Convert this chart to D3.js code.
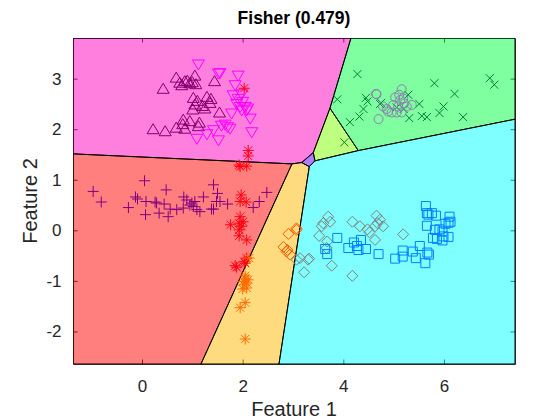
<!DOCTYPE html>
<html>
<head>
<meta charset="utf-8">
<script src="https://cdn.jsdelivr.net/npm/d3@7"></script>
<style>
  body { margin: 0; background: #fff; }
  text { font-family: "Liberation Sans", Arial, sans-serif; fill: #262626; }
</style>
</head>
<body>
<div class="canvas"></div>
<script>
// axis limits and ticks
const xLim = [-1.371, 7.411];
const yLim = [-2.644, 3.804];
const xTicks = [0, 2, 4, 6];
const yTicks = [-2, -1, 0, 1, 2, 3];

// classifier regions (vertices in feature space)
const regMagenta = [[-1.371, 3.804], [4.153, 3.804], [3.735, 2.415], [3.404, 1.538], [3.173, 1.340], [2.980, 1.314], [-1.371, 1.512]];
const regRed = [[-1.371, 1.512], [2.980, 1.314], [1.172, -2.644], [-1.371, -2.644]];
const regOrange = [[2.980, 1.314], [3.173, 1.340], [3.324, 1.261], [2.722, -2.644], [1.172, -2.644]];
const regPurple = [[3.173, 1.340], [3.404, 1.538], [3.437, 1.374], [3.324, 1.261]];
const regLime = [[3.735, 2.415], [4.298, 1.577], [3.437, 1.374], [3.404, 1.538]];
const regGreen = [[4.153, 3.804], [7.411, 3.804], [7.411, 2.198], [4.298, 1.577], [3.735, 2.415]];
const regCyan = [[3.324, 1.261], [3.437, 1.374], [4.298, 1.577], [7.411, 2.198], [7.411, -2.644], [2.722, -2.644]];

// classes
const triUp = [[0.42,2.79],[0.68,3.01],[0.75,2.91],[0.85,2.94],[0.95,2.90],[1.05,3.05],[1.07,2.88],[0.79,2.86],[1.44,2.94],
  [1.02,2.61],[1.10,2.55],[1.29,2.63],[1.37,2.59],[1.01,2.38],[1.25,2.40],[1.54,2.32],[0.82,2.18],[0.81,2.09],[1.14,2.12],
  [0.22,1.99],[0.46,1.95],[0.68,2.02],[0.85,2.00],[1.12,2.05],[1.05,2.48],[1.35,2.51],[0.90,2.95],[1.00,2.92],[1.20,2.45],[0.95,2.15]];
const triDown = [[1.12,3.29],[1.52,3.11],[1.91,3.07],[1.85,2.88],[1.81,2.68],[1.91,2.61],[1.88,2.51],[1.98,2.38],[2.08,2.38],
  [2.15,2.22],[1.78,2.32],[2.18,1.95],[1.58,2.08],[1.75,2.02],[1.42,1.99],[1.29,1.91],[1.09,1.82],[1.52,1.79],[2.05,2.45],
  [1.55,3.12],[1.98,2.70],[2.00,2.55],[1.95,2.45],[2.10,2.42],[1.70,2.05],[1.65,2.10]];
const starRed = [[2.03,2.81],[2.11,1.58],[2.11,1.47],[1.93,1.29],[2.08,1.27],[1.95,1.26],[1.97,0.70],[1.95,0.57],[2.07,0.56],
  [1.95,0.27],[1.76,0.11],[1.93,0.14],[2.01,0.17],[1.93,0.01],[1.98,0.08],[1.93,-0.11],[2.08,-0.19],[2.08,-0.55],[1.85,-0.70],
  [1.88,-0.73],[2.03,-0.62],[2.05,-0.65]];
const starOrange = [[2.13,-0.55],[2.05,-0.90],[2.11,-0.98],[2.01,-1.01],[2.08,-1.04],[2.00,-1.16],[2.08,-1.14],[2.05,-1.43],
  [1.95,-1.53],[2.05,-2.15],[2.05,-0.95],[2.03,-1.08]];
const plusPurple = [[-0.97,0.77],[-0.81,0.56],[-0.27,0.45],[-0.13,0.66],[-0.09,0.62],[0.05,0.98],[0.08,0.57],[0.07,0.31],
  [0.26,0.56],[0.29,0.54],[0.34,0.34],[0.48,0.80],[0.44,0.52],[0.52,0.27],[0.56,0.42],[0.69,0.41],[0.83,0.66],[0.82,0.44],
  [0.89,0.60],[0.99,0.54],[1.02,0.47],[1.09,0.41],[1.15,0.37],[1.05,0.57],[1.22,0.66],[1.38,0.42],[1.42,0.90],[1.50,0.73],
  [1.48,0.57],[1.55,0.57],[1.70,0.52],[2.21,0.45],[2.33,0.57],[2.48,0.75],[0.95,0.50],[1.42,0.42]];
const diamOrange = [[2.91,-0.07],[3.07,0.01],[2.81,-0.33],[2.89,-0.39],[2.94,-0.48],[2.87,-0.42],[3.07,0.04]];
const diamGray = [[3.70,0.27],[3.74,0.17],[3.60,0.14],[3.57,0.08],[3.52,-0.11],[3.68,-0.22],[3.67,-0.35],[3.14,-0.55],
  [3.32,-0.56],[3.22,-0.83],[3.77,-0.70],[4.18,0.17],[4.33,0.08],[4.48,0.02],[4.66,0.29],[4.68,0.14],[4.73,0.21],[4.63,0.08],
  [4.79,0.08],[4.52,-0.04],[4.63,-0.19],[5.19,-0.08],[4.18,-0.90],[3.07,-0.58],[3.30,-0.58]];
const sqBlue = [[3.88,-0.15],[3.64,-0.37],[3.68,-0.47],[4.10,-0.35],[4.21,-0.24],[4.27,-0.31],[4.30,-0.39],[4.35,-0.19],
  [4.45,-0.37],[4.70,-0.47],[5.03,-0.56],[5.18,-0.40],[5.18,-0.52],[5.38,-0.42],[5.44,-0.55],[5.52,-0.31],[5.67,-0.44],
  [5.70,-0.48],[5.63,-0.65],[5.64,0.48],[5.66,0.34],[5.69,0.31],[5.76,0.34],[5.84,0.29],[5.66,0.09],[5.82,0.01],[5.91,0.02],
  [5.97,-0.02],[5.99,-0.12],[6.09,-0.13],[5.78,-0.15],[5.86,-0.17],[5.97,-0.20],[6.11,0.27],[6.09,0.15],[6.13,0.17],[6.03,0.13]];
const crossGreen = [[4.28,3.09],[5.81,2.91],[6.91,3.01],[7.00,2.88],[6.21,2.70],[3.88,2.59],[4.45,2.62],[4.48,2.55],[4.40,2.40],
  [4.32,2.25],[4.13,2.14],[4.73,2.50],[4.75,2.52],[5.06,2.43],[5.29,2.68],[5.51,2.50],[5.31,2.22],[5.56,2.26],[5.66,2.24],
  [5.91,2.32],[5.99,2.45],[6.38,2.24],[4.02,1.74],[5.20,2.40]];
const circMauve = [[4.66,2.69],[5.16,2.79],[5.11,2.68],[5.19,2.61],[5.03,2.63],[5.36,2.48],[5.21,2.51],[4.79,2.45],[4.89,2.35],
  [4.96,2.33],[5.06,2.33],[5.16,2.33],[5.26,2.45],[4.70,2.20],[5.09,2.45],[4.99,2.48],[4.86,2.40],[5.13,2.58],[4.65,2.70]];

const regions = [
  { pts: regMagenta, color: '#ff00bf' },
  { pts: regRed, color: '#ff0000' },
  { pts: regOrange, color: '#ffb700' },
  { pts: regPurple, color: '#6000ff' },
  { pts: regLime, color: '#80ff00' },
  { pts: regGreen, color: '#00ff40' },
  { pts: regCyan, color: '#00ffff' }
];

// marker paths, centred on 0,0
const mk = {
  triUp: 'M0,-6L6,4L-6,4Z',
  triDown: 'M0,6L6,-4L-6,-4Z',
  star: 'M-5.5,0H5.5M0,-5.5V5.5M-4,-4L4,4M-4,4L4,-4',
  plus: 'M-5.5,0H5.5M0,-5.5V5.5',
  diam: 'M0,-5.5L5.5,0L0,5.5L-5.5,0Z',
  square: 'M-4.5,-4.5H4.5V4.5H-4.5Z',
  cross: 'M-4,-4L4,4M-4,4L4,-4',
  circle: 'M4.5,0A4.5,4.5 0 1,1 -4.5,0A4.5,4.5 0 1,1 4.5,0Z'
};

const classes = [
  { pts: triUp, shape: mk.triUp, color: '#80006e' },
  { pts: triDown, shape: mk.triDown, color: '#ff00ff' },
  { pts: starRed, shape: mk.star, color: '#ff0010' },
  { pts: plusPurple, shape: mk.plus, color: '#800080' },
  { pts: starOrange, shape: mk.star, color: '#ff6a00' },
  { pts: diamOrange, shape: mk.diam, color: '#ff5a00' },
  { pts: diamGray, shape: mk.diam, color: '#808080' },
  { pts: sqBlue, shape: mk.square, color: '#0080ff' },
  { pts: crossGreen, shape: mk.cross, color: '#008033' },
  { pts: circMauve, shape: mk.circle, color: '#8a80b0' }
];

const dims = { width: 560, height: 420 };
const box = { left: 73, right: 515, top: 38, bottom: 364 };

const x = d3.scaleLinear().domain(xLim).range([box.left, box.right]);
const y = d3.scaleLinear().domain(yLim).range([box.bottom, box.top]);

const svg = d3.select('.canvas')
  .append('svg')
    .attr('width', dims.width)
    .attr('height', dims.height)

svg.append('defs').append('clipPath')
    .attr('id', 'plotClip')
  .append('rect')
    .attr('x', box.left)
    .attr('y', box.top)
    .attr('width', box.right - box.left)
    .attr('height', box.bottom - box.top)

// axes first, the translucent patches go over them like in the original
const tl = 4.5;
const xAxisB = d3.axisBottom(x).tickValues(xTicks).tickSizeInner(-tl).tickSizeOuter(0).tickFormat(d3.format('d'));
const xAxisT = d3.axisTop(x).tickValues(xTicks).tickSizeInner(-tl).tickSizeOuter(0).tickFormat('');
const yAxisL = d3.axisLeft(y).tickValues(yTicks).tickSizeInner(-tl).tickSizeOuter(0).tickFormat(d => d < 0 ? '-' + Math.abs(d) : d);
const yAxisR = d3.axisRight(y).tickValues(yTicks).tickSizeInner(-tl).tickSizeOuter(0).tickFormat('');

const axes = [
  svg.append('g').attr('transform', `translate(0, ${box.bottom})`).call(xAxisB),
  svg.append('g').attr('transform', `translate(0, ${box.top})`).call(xAxisT),
  svg.append('g').attr('transform', `translate(${box.left}, 0)`).call(yAxisL),
  svg.append('g').attr('transform', `translate(${box.right}, 0)`).call(yAxisR)
];
axes.forEach(a => {
  a.selectAll('.domain').attr('stroke', '#262626')
  a.selectAll('line').attr('stroke', '#262626')
  a.selectAll('text')
    .attr('font-size', 17)
    .attr('fill', '#262626')
    .style('font-family', '"Liberation Sans", Arial, sans-serif')
});
axes[0].selectAll('text').attr('dy', '1.45em');
axes[2].selectAll('text').attr('dx', '-0.5em');

// decision regions
const poly = d3.line().x(d => x(d[0])).y(d => y(d[1]));
svg.append('g')
    .attr('clip-path', 'url(#plotClip)')
  .selectAll('path')
  .data(regions)
  .enter()
  .append('path')
    .attr('d', d => poly(d.pts) + 'Z')
    .attr('fill', d => d.color)
    .attr('fill-opacity', 0.5)
    .attr('stroke', '#000')
    .attr('stroke-width', 1)

// samples
const marks = svg.append('g')
classes.forEach(c => {
  marks.append('g')
    .selectAll('path')
    .data(c.pts)
    .enter()
    .append('path')
      .attr('transform', d => `translate(${x(d[0])}, ${y(d[1])})`)
      .attr('d', c.shape)
      .attr('fill', 'none')
      .attr('stroke', c.color)
      .attr('stroke-width', 1)
});

// labels
svg.append('text')
    .attr('x', (box.left + box.right) / 2)
    .attr('y', 24)
    .attr('text-anchor', 'middle')
    .attr('font-size', 17.5)
    .attr('font-weight', 'bold')
    .style('fill', '#000')
    .text('Fisher (0.479)')

svg.append('text')
    .attr('x', (box.left + box.right) / 2)
    .attr('y', 416)
    .attr('text-anchor', 'middle')
    .attr('font-size', 20)
    .text('Feature 1')

svg.append('text')
    .attr('transform', `translate(37, ${(box.top + box.bottom) / 2}) rotate(-90)`)
    .attr('text-anchor', 'middle')
    .attr('font-size', 20)
    .text('Feature 2')
</script>
</body>
</html>
